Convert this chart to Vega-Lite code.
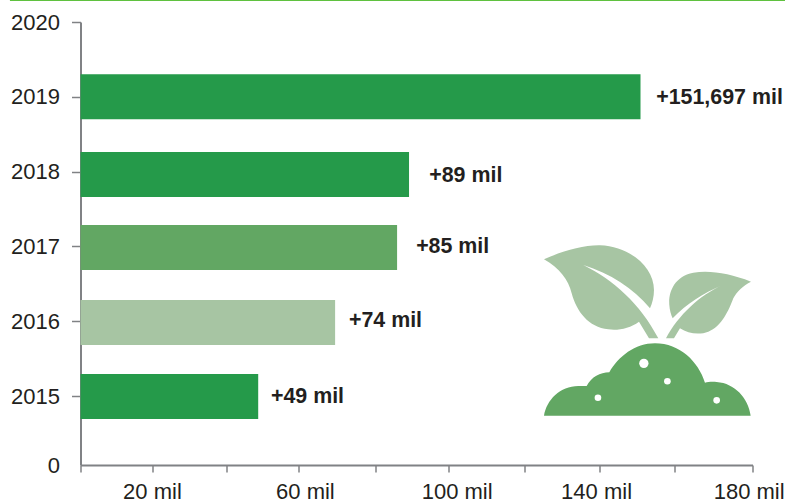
{"$schema":"https://vega.github.io/schema/vega-lite/v6.json","width":672,"height":443,"autosize":{"type":"none"},"padding":{"left":80.5,"top":22,"right":32.5,"bottom":37},"background":"white","config":{"view":{"stroke":null},"font":"Liberation Sans"},
"datasets":{
"bars":[
{"pos":2019,"value":150,"label":"+151,697 mil","labelAt":154.2,"labelPos":2019,"tone":"dark"},
{"pos":2017.96,"value":88,"label":"+89 mil","labelAt":93.4,"labelPos":2017.955,"tone":"dark"},
{"pos":2016.985,"value":84.8,"label":"+85 mil","labelAt":89.9,"labelPos":2017,"tone":"mid"},
{"pos":2015.983,"value":68.2,"label":"+74 mil","labelAt":71.9,"labelPos":2016.01,"tone":"light"},
{"pos":2014.993,"value":47.6,"label":"+49 mil","labelAt":51,"labelPos":2015,"tone":"dark"}],
"rule":[{"from":-18.9,"to":189,"at":2020.29}],
"icon":[{"x":120.4,"y":2017.219}],
"bigDot":[{"x":150.9,"y":2015.437}],
"smallDots":[{"x":157.2,"y":2015.197},{"x":138.6,"y":2014.977},{"x":170.4,"y":2014.942}]},
"layer":[
{"data":{"name":"bars"},"mark":{"type":"bar","height":45,"orient":"horizontal"},"encoding":{
"x":{"field":"value","type":"quantitative","scale":{"domain":[0,180],"nice":false,"zero":false},"axis":{"title":null,"values":[0,10.3,19.4,29.1,39,48.9,58.5,69.2,78.9,89.3,98.7,108.4,118.8,128.2,138.9,148.8,159,168.9,179.9],"grid":false,"domainColor":"#808285","domainWidth":2,"tickColor":"#808285","tickWidth":1.5,"tickSize":7,"labelFontSize":22,"labelColor":"#231f20","labelPadding":9,"labelOverlap":false,"labelBound":false,"labelFlush":false,"labelOffset":{"condition":[{"test":"datum.value==19.4","value":-1},{"test":"datum.value==58.5","value":6},{"test":"datum.value==98.7","value":7.7},{"test":"datum.value==138.9","value":-3},{"test":"datum.value==179.9","value":-3.5}],"value":0},"labelExpr":"(round(datum.value/10)>0 && (round(datum.value/10)-2)%4==0) ? round(datum.value/10)*10+' mil' : ''"}},
"y":{"field":"pos","type":"quantitative","scale":{"domain":[2014.078,2020],"nice":false,"zero":false,"padding":0},"axis":{"title":null,"values":[2014.078,2015,2016,2017,2018,2019,2020],"grid":false,"domainColor":"#808285","domainWidth":2,"tickColor":"#808285","tickWidth":1.5,"tickSize":9,"tickOpacity":{"condition":{"test":"datum.value<2014.5","value":0},"value":1},"labelFontSize":22,"labelColor":"#231f20","labelPadding":12,"labelOverlap":false,"labelBound":false,"labelFlush":false,"labelExpr":"datum.value<2014.5 ? '0' : ''+round(datum.value)"}},
"color":{"field":"tone","type":"nominal","scale":{"domain":["dark","mid","light"],"range":["#259a4a","#62a763","#a7c5a3"]},"legend":null}}},
{"data":{"name":"bars"},"mark":{"type":"text","align":"left","baseline":"middle","fontWeight":"bold","fontSize":21.4,"dy":1,"color":"#231f20"},"encoding":{"x":{"field":"labelAt","type":"quantitative"},"y":{"field":"labelPos","type":"quantitative"},"text":{"field":"label"}}},
{"data":{"name":"rule"},"mark":{"type":"rule","color":"#5fc13f","strokeWidth":1.5},"encoding":{"x":{"field":"from","type":"quantitative"},"x2":{"field":"to"},"y":{"field":"at","type":"quantitative"}}},
{"data":{"name":"icon"},"mark":{"type":"point","filled":true,"opacity":1,"size":0.4444,"color":"#a7c5a3","shape":"M42,88 C100,62 160,45 210,46 C300,50 372,110 372,180 C372,200 367,220 360,235 C310,175 240,130 160,105 C250,150 330,220 385,325 L357,325 L327,275 C300,295 265,302 235,298 C175,292 140,245 125,190 C115,150 90,115 42,88 Z M663,155 C600,130 540,120 490,128 C430,140 415,190 418,225 C419,240 423,255 428,265 C470,220 520,190 578,165 C510,195 445,255 408,325 L432,325 L450,295 C475,312 510,315 535,305 C575,290 597,240 610,205 C620,185 640,167 663,155 Z"},"encoding":{"x":{"field":"x","type":"quantitative"},"y":{"field":"y","type":"quantitative"}}},
{"data":{"name":"icon"},"mark":{"type":"point","filled":true,"opacity":1,"size":0.4444,"color":"#62a763","shape":"M42,557 C50,510 90,468 145,468 L170,468 C185,440 210,428 238,427 C265,380 315,340 375,340 C450,340 505,395 525,458 C535,455 550,455 560,456 C615,460 655,505 662,557 Z"},"encoding":{"x":{"field":"x","type":"quantitative"},"y":{"field":"y","type":"quantitative"}}},
{"data":{"name":"bigDot"},"mark":{"type":"circle","opacity":1,"size":87,"color":"white"},"encoding":{"x":{"field":"x","type":"quantitative"},"y":{"field":"y","type":"quantitative"}}},
{"data":{"name":"smallDots"},"mark":{"type":"circle","opacity":1,"size":44,"color":"white"},"encoding":{"x":{"field":"x","type":"quantitative"},"y":{"field":"y","type":"quantitative"}}}
]}
